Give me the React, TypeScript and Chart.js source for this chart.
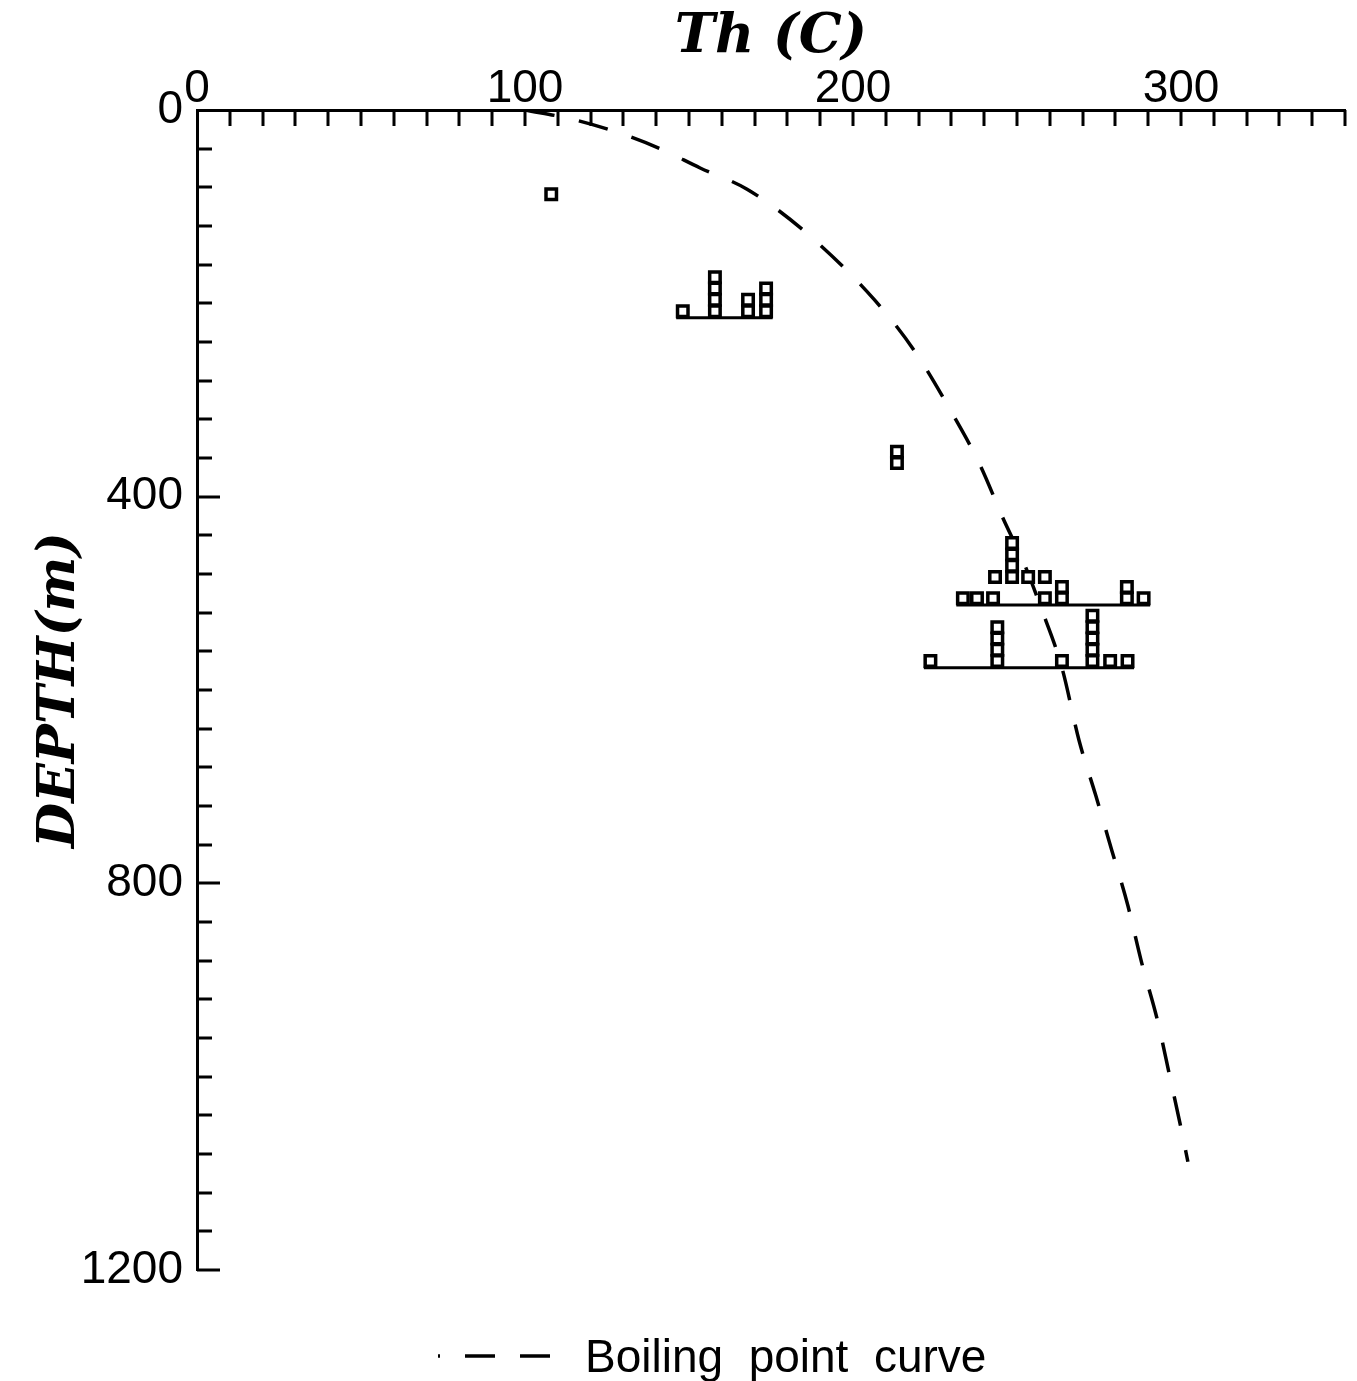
import React, { useEffect, useRef } from "react";
import { Chart, registerables } from "chart.js";

Chart.register(...registerables);

// ---- axes / tick labels ----
const xTickLabels = [0, 100, 200, 300];
const yTickLabels = [0, 400, 800, 1200];
const xMinorStep = 10;
const yMinorStep = 40;

// ---- boiling point curve (Th in C, depth in m) ----
const boilTemp = [100, 113.7, 129, 141.2, 153.4, 167.7, 185.4, 206.7, 218.9, 229.6, 238.7, 245.7, 252.4, 257, 263.7, 268.9, 274, 279, 283.8, 288, 292.7, 296.6, 300.3, 302.1];
const boilDepth = [0, 9, 24, 40, 60, 82, 126, 197, 250, 310, 367, 422, 471, 512, 577, 652, 709, 767, 823, 882, 940, 1000, 1058, 1088];

// ---- fluid-inclusion histograms: one group per sample depth ----
const groupDepths = [94, 215, 372, 490, 512, 577];
const groupHasBaseline = [false, true, false, false, true, true];
const groupTemps = [
  [108],
  [148.1, 157.9, 168, 173.5],
  [213.4],
  [243.3, 248.5, 253.4, 258.5],
  [233.5, 237.8, 242.7, 258.5, 263.7, 283.5, 288.6],
  [223.6, 244, 263.7, 273, 278.4, 283.7],
];
const groupCounts = [
  [1],
  [1, 4, 2, 3],
  [2],
  [1, 4, 1, 1],
  [1, 1, 1, 1, 2, 2, 1],
  [1, 4, 1, 5, 1, 1],
];

// stacking of boxes (in depth units)
const BOX_FIRST = 6.9;
const BOX_STEP = 11.7;
const BASE_EXT = 2.0;

const W = 1357;
const H = 1381;
const tickFont = '"Liberation Sans", Arial, Helvetica, sans-serif';
const titleFont = '"DejaVu Serif", "Liberation Serif", serif';

export default function App() {
  const ref = useRef<HTMLCanvasElement>(null);

  useEffect(() => {
    if (!ref.current) return;

    const boxPoints: { x: number; y: number }[] = [];
    groupDepths.forEach((d, g) => {
      groupTemps[g].forEach((t, i) => {
        for (let k = 0; k < groupCounts[g][i]; k++) {
          boxPoints.push({ x: t, y: d - BOX_FIRST - k * BOX_STEP });
        }
      });
    });

    const baselineSets = groupDepths
      .map((d, g) => {
        if (!groupHasBaseline[g]) return null;
        const ts = groupTemps[g];
        return {
          label: "base" + g,
          data: [
            { x: Math.min(...ts) - BASE_EXT, y: d },
            { x: Math.max(...ts) + BASE_EXT, y: d },
          ],
          showLine: true,
          borderColor: "#000",
          borderWidth: 3,
          pointRadius: 0,
          order: 1,
        };
      })
      .filter(Boolean) as any[];

    const curve = boilTemp.map((t, i) => ({ x: t, y: boilDepth[i] }));

    const axisTicks = {
      id: "axisTicks",
      afterDraw(chart: any) {
        const { ctx, chartArea, scales } = chart;
        const xs = scales.x;
        const ys = scales.y;
        ctx.save();
        ctx.strokeStyle = "#000";
        ctx.lineWidth = 3;
        ctx.lineCap = "butt";
        ctx.beginPath();
        for (let v = xMinorStep; v <= xs.max + 0.001; v += xMinorStep) {
          const px = Math.round(xs.getPixelForValue(v));
          ctx.moveTo(px, chartArea.top);
          ctx.lineTo(px, chartArea.top + 16);
        }
        for (let v = yMinorStep; v <= ys.max + 0.001; v += yMinorStep) {
          const py = Math.round(ys.getPixelForValue(v));
          const len = yTickLabels.includes(v) ? 23 : 15;
          ctx.moveTo(chartArea.left, py);
          ctx.lineTo(chartArea.left + len, py);
        }
        ctx.stroke();

        // legend
        const ly = 1356;
        ctx.lineWidth = 3.5;
        ctx.setLineDash([30, 25]);
        ctx.lineDashOffset = 28;
        ctx.beginPath();
        ctx.moveTo(438, ly);
        ctx.lineTo(550, ly);
        ctx.stroke();
        ctx.setLineDash([]);
        ctx.fillStyle = "#000";
        ctx.font = `46px ${tickFont}`;
        ctx.textAlign = "left";
        ctx.textBaseline = "alphabetic";
        ctx.fillText("Boiling  point  curve", 585, 1372);
        ctx.restore();
      },
    };

    const whiteBg = {
      id: "whiteBg",
      beforeDraw(chart: any) {
        const { ctx } = chart;
        ctx.save();
        ctx.fillStyle = "#fff";
        ctx.fillRect(0, 0, chart.width, chart.height);
        ctx.restore();
      },
    };

    const chart = new Chart(ref.current, {
      type: "scatter",
      data: {
        datasets: [
          {
            label: "Th",
            data: boxPoints,
            pointStyle: "rect",
            pointRadius: 7.4,
            pointHoverRadius: 7.4,
            pointBorderWidth: 3.5,
            pointBorderColor: "#000",
            pointBackgroundColor: "#fff",
            showLine: false,
            order: 0,
          } as any,
          ...baselineSets,
          {
            label: "Boiling point curve",
            data: curve,
            showLine: true,
            borderColor: "#000",
            borderWidth: 3.5,
            borderDash: [30, 25],
            pointRadius: 0,
            cubicInterpolationMode: "monotone",
            order: 2,
          } as any,
        ],
      },
      options: {
        responsive: false,
        animation: false,
        events: [],
        layout: { padding: { top: 0, left: 0, right: 12, bottom: 111 } },
        plugins: {
          legend: { display: false },
          tooltip: { enabled: false },
        },
        scales: {
          x: {
            type: "linear",
            position: "top",
            min: 0,
            max: 350,
            ticks: {
              stepSize: 100,
              includeBounds: false,
              autoSkip: false,
              maxRotation: 0,
              padding: -2,
              color: "#000",
              font: { family: tickFont, size: 46, lineHeight: 1 },
              callback: (v: any) => (xTickLabels.includes(Number(v)) ? String(v) : ""),
            },
            grid: { display: false, drawTicks: false },
            border: { display: true, color: "#000", width: 3 },
            title: {
              display: true,
              text: "Th (C)",
              color: "#000",
              font: { family: titleFont, size: 54, style: "italic", weight: "bold", lineHeight: 1 },
              padding: { top: 11, bottom: 0 },
            },
            afterFit: (s: any) => {
              s.height = 110;
            },
          },
          y: {
            type: "linear",
            position: "left",
            reverse: true,
            min: 0,
            max: 1200,
            ticks: {
              stepSize: 400,
              includeBounds: false,
              autoSkip: false,
              padding: 14,
              color: "#000",
              font: { family: tickFont, size: 46, lineHeight: 1 },
              callback: (v: any) => (yTickLabels.includes(Number(v)) ? String(v) : ""),
            },
            grid: { display: false, drawTicks: false },
            border: { display: true, color: "#000", width: 3 },
            title: {
              display: true,
              text: "DEPTH(m)",
              color: "#000",
              font: { family: titleFont, size: 52, style: "italic", weight: "bold", lineHeight: 1 },
              padding: { top: 34, bottom: 0 },
            },
            afterFit: (s: any) => {
              s.width = 197;
            },
          },
        },
      } as any,
      plugins: [whiteBg, axisTicks],
    });

    return () => chart.destroy();
  }, []);

  return (
    <div style={{ position: "absolute", left: 0, top: 0, width: W, height: H, background: "#fff" }}>
      <canvas ref={ref} width={W} height={H} style={{ display: "block", width: W, height: H }} />
    </div>
  );
}
